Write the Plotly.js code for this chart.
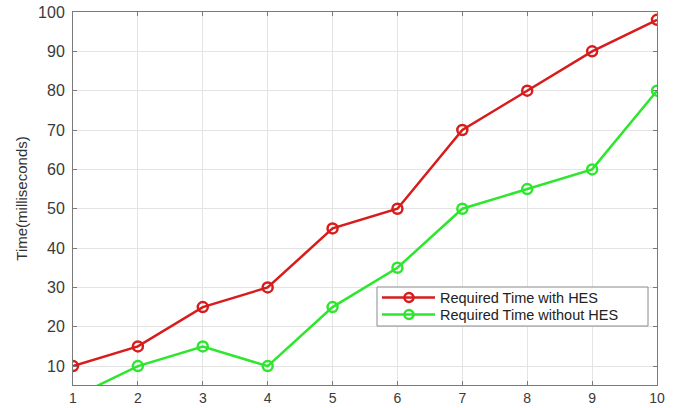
<!DOCTYPE html>
<html><head><meta charset="utf-8">
<script src="https://cdn.plot.ly/plotly-3.0.1.min.js"></script>
<style>html,body{margin:0;padding:0;background:#fff}#chart{width:675px;height:408px}</style>
</head><body><div id="chart"></div>
<script>
const xValues = [1, 2, 3, 4, 5, 6, 7, 8, 9, 10];
const withHES = [10, 15, 25, 30, 45, 50, 70, 80, 90, 98];
const withoutHES = [2, 10, 15, 10, 25, 35, 50, 55, 60, 80];
const seriesNames = ['Required Time with HES', 'Required Time without HES'];
const seriesColors = ['#d81c1c', '#2ee62e'];
const yTicks = [10, 20, 30, 40, 50, 60, 70, 80, 90, 100];

const FONT = 'Liberation Sans, Arial, sans-serif';
const traces = [withHES, withoutHES].map((ys, i) => ({
  x: xValues, y: ys, name: seriesNames[i], mode: 'lines+markers', showlegend: false,
  line: {color: seriesColors[i], width: 2.5},
  marker: {symbol: 'circle-open', size: 10, color: seriesColors[i], line: {width: 2.5}}
}));

// plot-area geometry (pixels) used only to place the hand-drawn legend box
const M = {l: 73, r: 18, t: 12, b: 23};
const W = 675, H = 408;
const pw = W - M.l - M.r, ph = H - M.t - M.b;
const px = v => (v - M.l) / pw;
const py = v => (H - M.b - v) / ph;

const shapes = [{type: 'rect', xref: 'paper', yref: 'paper', x0: px(377), x1: px(648), y0: py(326), y1: py(287),
  line: {color: '#8a8a8a', width: 1}, fillcolor: '#fff', layer: 'above'}];
const annotations = [];
const rowY = [297.5, 314.5];
seriesNames.forEach((name, i) => {
  shapes.push({type: 'line', xref: 'paper', yref: 'paper', x0: px(382), x1: px(435), y0: py(rowY[i]), y1: py(rowY[i]),
    line: {color: seriesColors[i], width: 2.5}, layer: 'above'});
  shapes.push({type: 'circle', xref: 'paper', yref: 'paper', xsizemode: 'pixel', ysizemode: 'pixel',
    xanchor: px(409), yanchor: py(rowY[i]), x0: -4.5, x1: 4.5, y0: -4.5, y1: 4.5,
    line: {color: seriesColors[i], width: 2.5}, fillcolor: 'rgba(0,0,0,0)', layer: 'above'});
  annotations.push({xref: 'paper', yref: 'paper', x: px(439), y: py(rowY[i]), xanchor: 'left', yanchor: 'middle',
    text: name, showarrow: false, borderpad: 0, font: {family: FONT, size: 14.5, color: '#222'}});
});

const axisCommon = {showline: true, linecolor: '#7a7a7a', linewidth: 1, mirror: 'ticks',
  ticks: 'inside', ticklen: 4, tickcolor: '#7a7a7a', showgrid: true, gridcolor: '#e4e4e4',
  zeroline: false, tickfont: {family: FONT, size: 16, color: '#3a3a3a'}};
const layout = {
  width: W, height: H, paper_bgcolor: '#fff', plot_bgcolor: '#fff',
  margin: M, showlegend: false, shapes: shapes, annotations: annotations,
  xaxis: Object.assign({}, axisCommon, {range: [1, 10], tickvals: xValues, ticklabelstandoff: 0,
    tickfont: {family: FONT, size: 14, color: '#3a3a3a'}}),
  yaxis: Object.assign({}, axisCommon, {range: [5.2, 100], tickvals: yTicks, ticklabelstandoff: 4,
    title: {text: 'Time(milliseconds)', standoff: 6, font: {family: FONT, size: 15, color: '#333'}}})
};
Plotly.newPlot('chart', traces, layout, {displayModeBar: false});
</script></body></html>
